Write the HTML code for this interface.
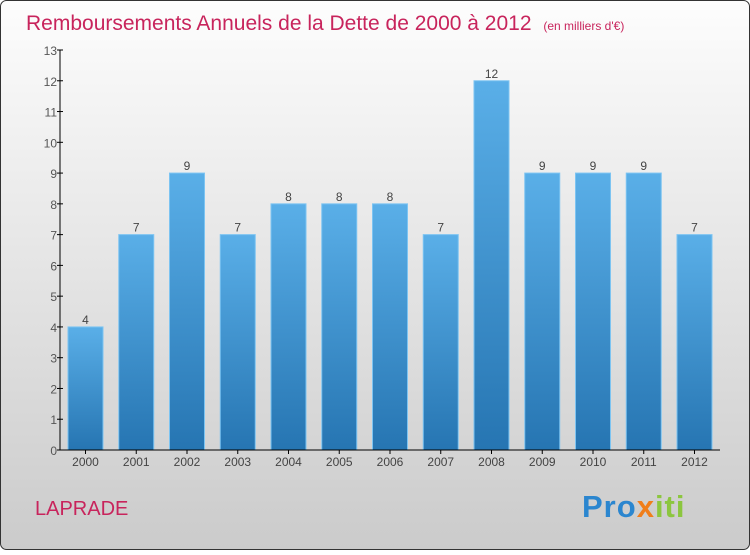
<!DOCTYPE html>
<html><head><meta charset="utf-8"><style>
body{margin:0;width:750px;height:550px;overflow:hidden;font-family:"Liberation Sans",sans-serif}
</style></head><body>
<svg width="750" height="550" xmlns="http://www.w3.org/2000/svg">
<defs>
<linearGradient id="bg" x1="0" y1="0" x2="0" y2="1"><stop offset="0" stop-color="#fdfdfd"/><stop offset="1" stop-color="#cbcbcb"/></linearGradient>
<linearGradient id="bar" x1="0" y1="0" x2="0" y2="1"><stop offset="0" stop-color="#5aafe8"/><stop offset="1" stop-color="#2675b2"/></linearGradient>
</defs>
<rect x="0.5" y="0.5" width="749" height="549" rx="6" fill="url(#bg)" stroke="#333"/>
<text x="26" y="30" font-size="21" fill="#c8245c">Remboursements Annuels de la Dette de 2000 à 2012 <tspan font-size="12" dx="6">(en milliers d'€)</tspan></text>
<g id="yaxis"></g><g id="bars"></g><g id="xaxis"></g>
<text x="35" y="515" font-size="20" fill="#c8245c">LAPRADE</text>
<text x="582" y="517" font-size="31" font-weight="bold" letter-spacing="1"><tspan fill="#2b86cf">Pro</tspan><tspan fill="#f07e1a">x</tspan><tspan fill="#8cc63f">iti</tspan></text>
</svg>
<script>
const years=["2000","2001","2002","2003","2004","2005","2006","2007","2008","2009","2010","2011","2012"];
const values=[4,7,9,7,8,8,8,7,12,9,9,9,7];
const yTicks=[0,1,2,3,4,5,6,7,8,9,10,11,12,13];
const NS="http://www.w3.org/2000/svg";
const x0=60,x1=720,yB=450,yT=50,yMax=13;
const y=v=>yB-(v/yMax)*(yB-yT);
const step=50.75,first=85.5,bw=35;
const xc=i=>first+i*step;
function mk(t,a,p){const e=document.createElementNS(NS,t);for(const k in a)e.setAttribute(k,a[k]);p.appendChild(e);return e;}
const ya=document.getElementById('yaxis'),ba=document.getElementById('bars'),xa=document.getElementById('xaxis');
let l=mk('line',{x1:x0,y1:yT,x2:x0,y2:yB,stroke:'#000'},ya);


yTicks.forEach(v=>{
 const t=mk('line',{x1:x0-3,x2:x0+3,y1:y(v),y2:y(v),stroke:'#000'},ya);
 
 
 const tx=mk('text',{x:x0-3,y:y(v)+5,'font-size':12,'text-anchor':'end',fill:'#555'},ya);tx.textContent=v;
 
 
});
l=mk('line',{x1:x0,y1:yB,x2:x1,y2:yB,stroke:'#000'},xa);


years.forEach((yr,i)=>{
 const v=values[i];
 const r=mk('rect',{x:xc(i)-bw/2,y:y(v),width:bw,height:yB-y(v),fill:'url(#bar)',stroke:'#7cc4f2','stroke-width':1},ba);
 
 
 const vt=mk('text',{x:xc(i),y:y(v)-3,'font-size':12,'text-anchor':'middle',fill:'#444'},ba);vt.textContent=v;
 
 
 const tk=mk('line',{x1:xc(i),x2:xc(i),y1:yB,y2:yB+4,stroke:'#000'},xa);
 
 
 const xt=mk('text',{x:xc(i),y:yB+16,'font-size':12,'text-anchor':'middle',fill:'#444'},xa);xt.textContent=yr;
 
 
});
</script>
</body></html>
